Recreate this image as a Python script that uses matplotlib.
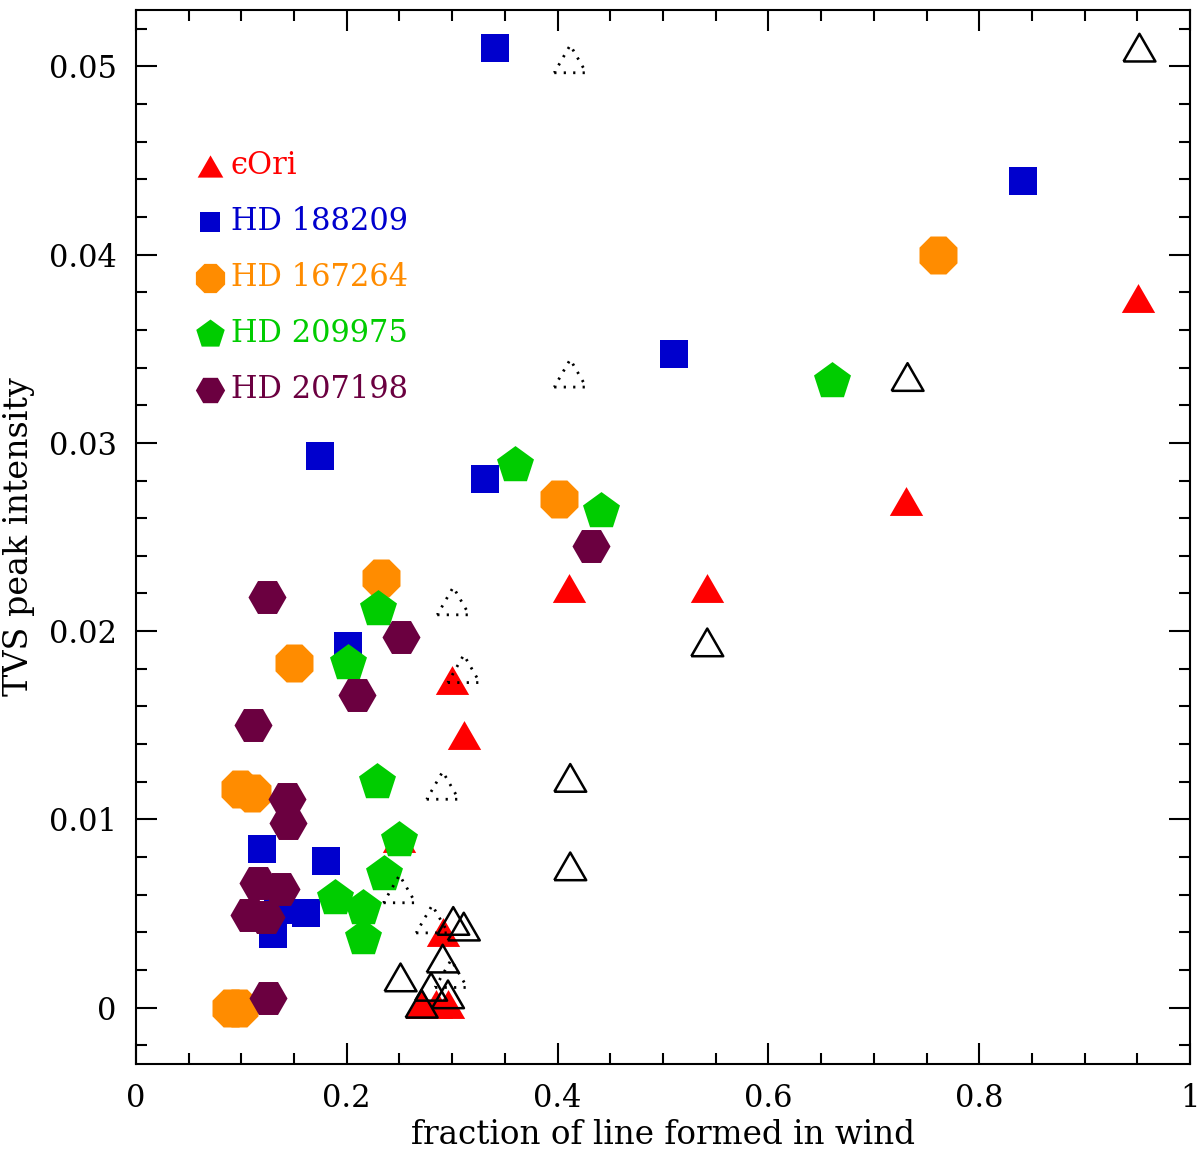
import numpy as np
import matplotlib
matplotlib.use("Agg")
import matplotlib.pyplot as plt
from matplotlib.ticker import MultipleLocator, FuncFormatter

plt.rcParams['font.family'] = ['DejaVu Serif', 'DejaVu Sans']

# epsilon Ori (filled red triangles)
eps_x = [0.951, 0.731, 0.542, 0.411, 0.300, 0.311, 0.250, 0.291, 0.271, 0.285, 0.296]
eps_y = [0.0377, 0.0269, 0.0223, 0.0223, 0.0174, 0.0145, 0.0090, 0.0040, 0.0002, 0.0002, 0.0002]

# open triangles, solid outline
open_x = [0.952, 0.732, 0.542, 0.412, 0.412, 0.301, 0.311, 0.291, 0.251, 0.280, 0.296, 0.271]
open_y = [0.0510, 0.0335, 0.0194, 0.0122, 0.0075, 0.0046, 0.0043, 0.0026, 0.0016, 0.0011, 0.0007, 0.0002]

# open triangles, dotted outline
dot_x = [0.412, 0.412, 0.301, 0.311, 0.291, 0.250, 0.281, 0.299]
dot_y = [0.0504, 0.0337, 0.0216, 0.0180, 0.0118, 0.0063, 0.0047, 0.0018]

# HD 188209
hd188_x = [0.341, 0.842, 0.510, 0.175, 0.331, 0.201, 0.120, 0.180, 0.161, 0.130, 0.135]
hd188_y = [0.0510, 0.0439, 0.0347, 0.0293, 0.0281, 0.0192, 0.0084, 0.0078, 0.0050, 0.0039, 0.0052]

# HD 167264
hd167_x = [0.761, 0.401, 0.232, 0.150, 0.099, 0.110, 0.090, 0.098]
hd167_y = [0.0400, 0.0270, 0.0228, 0.0183, 0.0116, 0.0114, 0.0000, 0.0000]

# HD 209975
hd209_x = [0.660, 0.360, 0.441, 0.230, 0.201, 0.229, 0.250, 0.235, 0.189, 0.215, 0.215]
hd209_y = [0.0333, 0.0288, 0.0264, 0.0212, 0.0183, 0.0120, 0.0089, 0.0071, 0.0058, 0.0053, 0.0037]

# HD 207198
hd207_x = [0.432, 0.124, 0.251, 0.210, 0.111, 0.143, 0.144, 0.116, 0.138, 0.107, 0.123, 0.125]
hd207_y = [0.0245, 0.0218, 0.0197, 0.0166, 0.0150, 0.0111, 0.0098, 0.0066, 0.0063, 0.0049, 0.0048, 0.0005]

xticks = [0, 0.2, 0.4, 0.6, 0.8, 1]
yticks = [0, 0.01, 0.02, 0.03, 0.04, 0.05]

red = '#ff0000'
blue = '#0000cd'
orange = '#ff8c00'
green = '#00cc00'
maroon = '#6b0040'

# equilateral triangle, centred on its bounding box
tri = [(-1, -0.866), (1, -0.866), (0, 0.866), (-1, -0.866)]

fig = plt.figure(figsize=(12, 11.49), dpi=100)
ax = fig.add_axes([0.1133, 0.0740, 0.8784, 0.9173])

h1 = ax.scatter(eps_x, eps_y, marker=tri, s=24**2, color=red, linewidths=0, label='ϵOri')
h2 = ax.scatter(hd188_x, hd188_y, marker='s', s=19.5**2, color=blue, linewidths=0, label='HD 188209')
h3 = ax.scatter(hd167_x, hd167_y, marker=(8, 0, 22.5), s=29.6**2, color=orange, linewidths=0, label='HD 167264')
h4 = ax.scatter(hd209_x, hd209_y, marker='p', s=28**2, color=green, linewidths=0, label='HD 209975')
h5 = ax.scatter(hd207_x, hd207_y, marker='H', s=27.4**2, color=maroon, linewidths=0, label='HD 207198')

ax.scatter(open_x, open_y, marker=tri, s=23**2, facecolors='none', edgecolors='k', linewidths=1.8)
ax.scatter(dot_x, dot_y, marker=tri, s=23**2, facecolors='none', edgecolors='k', linewidths=2,
           linestyles=(0, (0.8, 2.6)))

ax.set_xlim(0, 1)
ax.set_ylim(-0.003, 0.053)

ax.set_xticks(xticks)
ax.set_yticks(yticks)
ax.xaxis.set_minor_locator(MultipleLocator(0.05))
ax.yaxis.set_minor_locator(MultipleLocator(0.002))
fmt = FuncFormatter(lambda v, p: '%g' % v)
ax.xaxis.set_major_formatter(fmt)
ax.yaxis.set_major_formatter(fmt)

ax.tick_params(which='both', direction='in', top=True, right=True, width=1.5, labelsize=22)
ax.tick_params(which='major', length=15, pad=14)
ax.tick_params(which='minor', length=8)
for sp in ax.spines.values():
    sp.set_linewidth(1.5)

ax.set_xlabel('fraction of line formed in wind', fontsize=23.5, labelpad=3)
ax.set_ylabel('TVS peak intensity', fontsize=24, labelpad=10)

leg = ax.legend(handles=[h1, h2, h3, h4, h5], loc='upper left', bbox_to_anchor=(0.0537, 0.8675),
                frameon=False, fontsize=22, markerscale=0.77, scatterpoints=1,
                handlelength=1.15, handletextpad=0.1, borderpad=0, borderaxespad=0,
                labelspacing=0.82)
for txt, c in zip(leg.get_texts(), [red, blue, orange, green, maroon]):
    txt.set_color(c)

fig.savefig('out.png', dpi=100)
